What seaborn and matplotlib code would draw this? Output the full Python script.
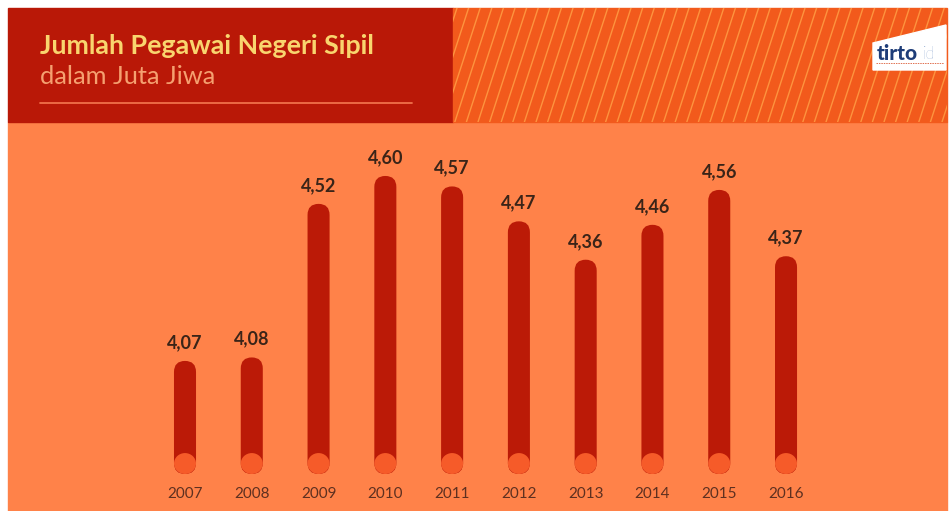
import numpy as np
import pandas as pd
import matplotlib
matplotlib.use("Agg")
import matplotlib.pyplot as plt
import seaborn as sns
from matplotlib.patches import FancyBboxPatch, Ellipse, Rectangle, Polygon
from matplotlib.lines import Line2D

# ---- data ----
years = ["2007", "2008", "2009", "2010", "2011", "2012", "2013", "2014", "2015", "2016"]
values = [4.07, 4.08, 4.52, 4.60, 4.57, 4.47, 4.36, 4.46, 4.56, 4.37]
value_labels = ["4,07", "4,08", "4,52", "4,60", "4,57", "4,47", "4,36", "4,46", "4,56", "4,37"]
title = "Jumlah Pegawai Negeri Sipil"
subtitle = "dalam Juta Jiwa"

# ---- style ----
W, H = 950, 511
BODY = "#ff8249"
HEADER_RED = "#b91807"
STRIPE_BG = "#f25a1c"
STRIPE_LINE = "#ff9a42"
BAR = "#bb1a07"
BASE_DOT = "#f65b29"
BASE = 3.746

sns.set_theme(style="white")
plt.rcParams['font.family'] = ['Lato', 'DejaVu Sans']

fig = plt.figure(figsize=(W / 100, H / 100), dpi=100, facecolor="white")

def fx(px):
    return px / W

def fy(py):
    return 1 - py / H

# background panels
fig.patches.append(Rectangle((fx(8), fy(511)), fx(947) - fx(8), fy(122) - fy(511),
                             transform=fig.transFigure, color=BODY, zorder=-10))
fig.patches.append(Rectangle((fx(8), fy(122)), fx(453) - fx(8), fy(8) - fy(122),
                             transform=fig.transFigure, color=HEADER_RED, zorder=-10))
stripe_rect = Rectangle((fx(453), fy(122)), fx(947) - fx(453), fy(8) - fy(122),
                        transform=fig.transFigure, color=STRIPE_BG, zorder=-10)
fig.patches.append(stripe_rect)
for x0 in np.arange(420, 960, 11.6):
    ln = Line2D([fx(x0), fx(x0 + 37)], [fy(122), fy(8)], transform=fig.transFigure,
                color=STRIPE_LINE, lw=1.0, alpha=0.9, zorder=-9)
    ln.set_clip_path(stripe_rect)
    fig.lines.append(ln)

# header texts
fig.text(fx(40), fy(46), title, color="#f9d56e", fontsize=19.3, fontweight="bold",
         va="center", ha="left")
fig.text(fx(40), fy(76), subtitle, color="#f5a070", fontsize=18.3,
         va="center", ha="left")
fig.lines.append(Line2D([fx(40), fx(412)], [fy(103), fy(103)], transform=fig.transFigure,
                        color="#f0704a", lw=1.3))

# logo
logo = Polygon([(fx(873), fy(43)), (fx(946), fy(25)), (fx(946), fy(70)), (fx(873), fy(70))],
               closed=True, transform=fig.transFigure, color="white", zorder=2)
fig.patches.append(logo)
fig.text(fx(877), fy(54), "tirto", color="#1e3d78", fontsize=15, fontweight="black",
         va="center", ha="left", zorder=3)
fig.text(fx(923), fy(54), "id", color="#6a8cc0", fontsize=12, fontweight="light",
         va="center", ha="left", zorder=3)
fig.lines.append(Line2D([fx(876), fx(944)], [fy(63), fy(63)], transform=fig.transFigure,
                        color="#e07050", lw=0.7, ls=(0, (1.5, 1)), zorder=3))

# ---- chart axes ----
ax = fig.add_axes([fx(8), fy(474), fx(947) - fx(8), fy(122) - fy(474)])
ax.set_facecolor("none")
ax.set_zorder(5)
df = pd.DataFrame({"year": years, "value": values})
sns.barplot(data=df, x="year", y="value", ax=ax, color=BAR, width=0.33)

px_per_x = 66.78
x_lo = -(185 - 8) / px_per_x
x_hi = x_lo + (947 - 8) / px_per_x
px_per_y = 349.0
ax.set_xlim(x_lo, x_hi)
ax.set_ylim(BASE, BASE + (474 - 122) / px_per_y)
aspect = px_per_x / px_per_y

bars = list(ax.patches)
for p, v, lab in zip(bars, values, value_labels):
    x, w = p.get_x(), p.get_width()
    p.remove()
    cap = FancyBboxPatch((x, BASE), w, v - BASE,
                         boxstyle=f"round,pad=0,rounding_size={w / 2}",
                         mutation_aspect=aspect, color=BAR, lw=0, zorder=3)
    ax.add_patch(cap)
    ry = (w / 2) * aspect
    ax.add_patch(Ellipse((x + w / 2, BASE + ry * 0.95), w, 2 * ry * 0.95,
                         color=BASE_DOT, lw=0, zorder=4))
    ax.annotate(lab, (x + w / 2, v), xytext=(0, 7), textcoords="offset points",
                ha="center", va="bottom", fontsize=13, fontweight="bold",
                color="#3a2418")

ax.set_xlabel("")
ax.set_ylabel("")
ax.set_yticks([])
ax.tick_params(axis="x", length=0, pad=9, labelsize=11, labelcolor="#5e3020")
for s in ax.spines.values():
    s.set_visible(False)

fig.savefig("out.png", dpi=100, facecolor="white")
